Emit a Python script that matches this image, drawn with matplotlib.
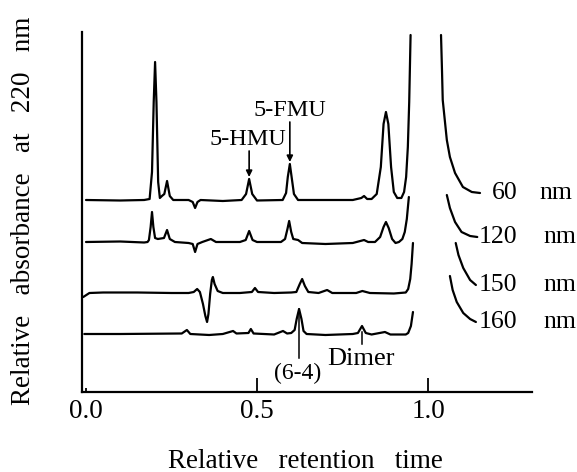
import numpy as np
import matplotlib.pyplot as plt

plt.rcParams['font.family'] = ['Liberation Serif', 'DejaVu Serif']

# Chromatograms: relative retention time vs absorbance (arb. units)
# 60 nm
t60 = [0.000, 0.100, 0.170, 0.186, 0.193, 0.198, 0.202, 0.206, 0.211, 0.216, 0.222, 0.229, 0.237,
       0.245, 0.255, 0.300, 0.312, 0.319, 0.326, 0.335, 0.400, 0.455, 0.468, 0.477, 0.486, 0.500,
       0.575, 0.585, 0.590, 0.596, 0.602, 0.608, 0.620, 0.700, 0.780, 0.805, 0.813, 0.822, 0.835,
       0.850, 0.862, 0.870, 0.877, 0.884, 0.892, 0.900, 0.910, 0.922, 0.930, 0.936, 0.941, 0.945, 0.949]
a60 = [19.2, 19.15, 19.2, 19.3, 22.0, 29.0, 33.0, 29.0, 21.0, 19.4, 19.6, 19.8, 21.1,
       19.6, 19.2, 19.2, 19.0, 18.4, 19.0, 19.2, 19.1, 19.2, 19.8, 21.3, 19.8, 19.15,
       19.2, 19.9, 21.5, 22.8, 21.3, 19.8, 19.2, 19.2, 19.2, 19.4, 19.6, 19.3, 19.3,
       19.8, 22.5, 26.8, 28.0, 26.8, 22.5, 20.0, 19.4, 19.4, 20.0, 21.5, 24.5, 29.0, 35.7]
t60_tail = [1.038, 1.041, 1.043, 1.055, 1.064, 1.079, 1.102, 1.128, 1.152]
a60_tail = [35.7, 32.0, 29.2, 25.2, 23.5, 21.9, 20.5, 20.0, 19.9]

# 120 nm
t120 = [0.000, 0.100, 0.170, 0.180, 0.184, 0.189, 0.193, 0.197, 0.202, 0.210, 0.228, 0.237, 0.245,
        0.260, 0.300, 0.312, 0.319, 0.326, 0.340, 0.365, 0.380, 0.450, 0.467, 0.477, 0.487, 0.500,
        0.570, 0.582, 0.589, 0.594, 0.600, 0.606, 0.620, 0.632, 0.700, 0.780, 0.813, 0.825, 0.845,
        0.860, 0.870, 0.877, 0.885, 0.895, 0.905, 0.915, 0.925, 0.932, 0.938, 0.944]
a120 = [15.0, 15.05, 14.95, 15.0, 15.2, 16.5, 18.0, 16.5, 15.4, 15.3, 15.4, 16.2, 15.3,
        15.0, 14.9, 14.8, 14.0, 14.8, 15.0, 15.3, 15.0, 15.0, 15.2, 16.1, 15.2, 15.0,
        15.0, 15.3, 16.3, 17.1, 16.0, 15.3, 15.2, 14.9, 14.8, 14.9, 15.2, 15.0, 15.0,
        15.5, 16.5, 17.0, 16.4, 15.3, 14.9, 15.0, 15.3, 16.0, 17.3, 19.5]
t120_tail = [1.055, 1.064, 1.079, 1.098, 1.123, 1.144]
a120_tail = [19.7, 18.4, 17.0, 16.0, 15.6, 15.5]

# 150 nm
t150 = [-0.008, 0.010, 0.050, 0.150, 0.250, 0.300, 0.315, 0.325, 0.333, 0.342, 0.349, 0.354, 0.358,
        0.363, 0.368, 0.371, 0.376, 0.385, 0.400, 0.450, 0.485, 0.494, 0.503, 0.550, 0.600, 0.615,
        0.625, 0.632, 0.640, 0.650, 0.680, 0.705, 0.720, 0.790, 0.808, 0.830, 0.900, 0.935, 0.942,
        0.948, 0.952, 0.956]
a150 = [9.5, 9.9, 9.95, 9.95, 9.9, 9.9, 10.0, 10.3, 10.0, 8.8, 7.6, 7.0, 7.8,
        9.8, 11.2, 11.5, 10.8, 10.1, 9.9, 9.9, 10.0, 10.4, 10.0, 9.9, 9.95, 10.0,
        10.8, 11.3, 10.6, 10.0, 9.9, 10.2, 9.9, 9.9, 10.1, 9.9, 9.85, 9.95, 10.3,
        11.3, 12.8, 14.9]
t150_tail = [1.081, 1.089, 1.103, 1.123, 1.140]
a150_tail = [14.9, 13.7, 12.4, 11.2, 10.7]

# 160 nm
t160 = [-0.005, 0.100, 0.280, 0.295, 0.305, 0.360, 0.400, 0.430, 0.440, 0.475, 0.482, 0.490,
        0.550, 0.576, 0.588, 0.600, 0.610, 0.616, 0.623, 0.630, 0.636, 0.645, 0.700, 0.780,
        0.795, 0.807, 0.818, 0.835, 0.874, 0.890, 0.935, 0.942, 0.950, 0.956]
a160 = [5.8, 5.8, 5.85, 6.2, 5.8, 5.7, 5.8, 6.1, 5.85, 5.9, 6.3, 5.85,
        5.75, 6.1, 5.85, 5.9, 6.2, 7.3, 8.3, 7.3, 6.1, 5.8, 5.7, 5.8,
        5.9, 6.6, 5.9, 5.75, 6.0, 5.75, 5.75, 5.9, 6.6, 8.0]
t160_tail = [1.064, 1.072, 1.084, 1.103, 1.123, 1.140]
a160_tail = [11.6, 10.2, 9.0, 7.9, 7.3, 7.0]

wavelengths = ['60', '120', '150', '160']
x_ticks = [0.0, 0.5, 1.0]
x_ticklabels = ['0.0', '0.5', '1.0']

# peak positions that are labelled
peak_hmu = 0.477
peak_fmu = 0.596
peak_dimer = 0.623
peak_dimer2 = 0.807

traces = [(t60, a60, t60_tail, a60_tail),
          (t120, a120, t120_tail, a120_tail),
          (t150, a150, t150_tail, a150_tail),
          (t160, a160, t160_tail, a160_tail)]

fig = plt.figure(figsize=(5.77, 4.72), dpi=100)
ax = fig.add_axes([0.1421, 0.1695, 0.7799, 0.7627])

lw = 1.6
for (t, a, tt, at), wl in zip(traces, wavelengths):
    ax.plot(t, a, color='black', lw=lw, solid_joinstyle='round', solid_capstyle='round')
    ax.plot(tt, at, color='black', lw=lw, solid_joinstyle='round', solid_capstyle='round')
    xl = 1.187 if wl == '60' else 1.149
    ax.text(xl, at[-1], wl, fontsize=18.5, ha='left', va='center', clip_on=False)
    ax.text(1.327 if wl == '60' else 1.336, at[-1], 'nm', fontsize=18.5,
            ha='left', va='center', clip_on=False)

# 5-HMU / 5-FMU arrows on the 60 nm trace
y_hmu = np.interp(peak_hmu, t60, a60)
y_fmu = np.interp(peak_fmu, t60, a60)
ax.text(peak_hmu - 0.003, y_hmu + 3.9, '5-HMU', fontsize=17.5, ha='center', va='center')
ax.annotate('', xy=(peak_hmu, y_hmu + 0.2), xytext=(peak_hmu, y_hmu + 2.8),
            arrowprops=dict(arrowstyle='-|>', color='black', lw=1.2, mutation_scale=9,
                            shrinkA=0, shrinkB=0))
ax.text(peak_fmu, y_fmu + 5.4, '5-FMU', fontsize=17.5, ha='center', va='center')
ax.annotate('', xy=(peak_fmu, y_fmu + 0.2), xytext=(peak_fmu, y_fmu + 4.2),
            arrowprops=dict(arrowstyle='-|>', color='black', lw=1.2, mutation_scale=9,
                            shrinkA=0, shrinkB=0))

# (6-4) Dimer markers on the 160 nm trace
y_d1 = np.interp(peak_dimer, t160, a160)
y_d2 = np.interp(peak_dimer2, t160, a160)
ax.plot([peak_dimer, peak_dimer], [y_d1, 3.4], color='black', lw=1.1)
ax.plot([peak_dimer2, peak_dimer2], [y_d2 - 0.6, 4.8], color='black', lw=1.1)
ax.text(peak_dimer - 0.003, 1.9, '(6-4)', fontsize=17, ha='center', va='center')
ax.text(0.705, 3.3, 'Dimer', fontsize=19, ha='left', va='center')

ax.set_xlim(-0.0117, 1.304)
ax.set_ylim(0, 36)
ax.spines['top'].set_visible(False)
ax.spines['right'].set_visible(False)
ax.spines['left'].set_linewidth(1.6)
ax.spines['bottom'].set_linewidth(1.6)
ax.set_yticks([])
ax.set_xticks(x_ticks)
ax.set_xticklabels(x_ticklabels)
ax.tick_params(axis='x', direction='in', length=10, width=1.3, labelsize=19.5, pad=5)
ax.xaxis.get_major_ticks()[0].tick1line.set_markersize(3)

fig.text(305 / 577, 1 - 461 / 472, 'Relative   retention   time', fontsize=19.5,
         ha='center', va='center')
fig.text(24 / 577, 1 - 211 / 472, 'Relative   absorbance   at   220   nm', fontsize=19.5,
         ha='center', va='center', rotation=90)

plt.savefig('out.png', dpi=100)
